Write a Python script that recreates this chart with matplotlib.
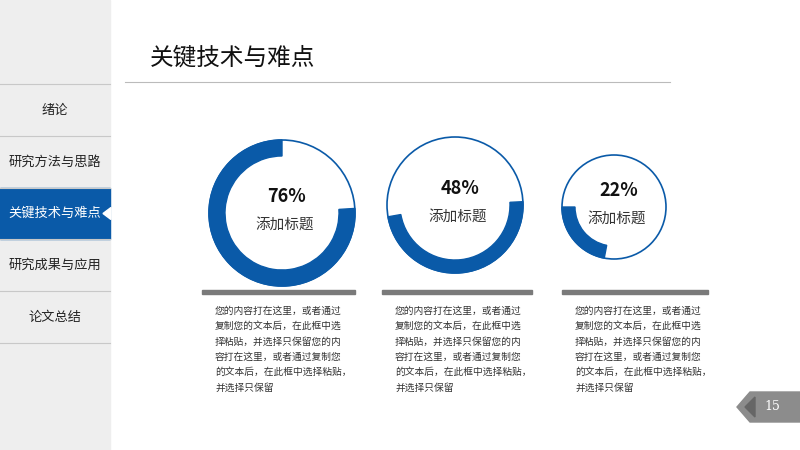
import matplotlib
matplotlib.use("Agg")
import matplotlib.pyplot as plt
from matplotlib.patches import Wedge, Circle, Rectangle, Polygon

plt.rcParams["font.family"] = ["Noto Sans CJK SC", "DejaVu Sans"]

menu_items = ["绪论", "研究方法与思路", "关键技术与难点", "研究成果与应用", "论文总结"]
active_index = 2
title = "关键技术与难点"
percents = [76, 48, 22]
labels = ["添加标题", "添加标题", "添加标题"]
para_lines = [
    ["您的内容打在这里，或者通过", "复制您的文本后，在此框中选", "择粘贴，并选择只保留您的内", "容打在这里，或者通过复制您", "的文本后，在此框中选择粘贴，", "并选择只保留"],
    ["您的内容打在这里，或者通过", "复制您的文本后，在此框中选", "择粘贴，并选择只保留您的内", "容打在这里，或者通过复制您", "的文本后，在此框中选择粘贴，", "并选择只保留"],
    ["您的内容打在这里，或者通过", "复制您的文本后，在此框中选", "择粘贴，并选择只保留您的内", "容打在这里，或者通过复制您", "的文本后，在此框中选择粘贴，", "并选择只保留"],
]
page_number = "15"

BLUE = "#0a5aa8"
fig = plt.figure(figsize=(8, 4.5), dpi=100)
ax = fig.add_axes([0, 0, 1, 1])
ax.set_xlim(0, 800); ax.set_ylim(450, 0); ax.axis("off")

# sidebar
ax.add_patch(Rectangle((0, 0), 110, 450, color="#eeeeee", zorder=0))
sep_y = [84, 136, 188, 239, 291, 343]
for y in sep_y:
    ax.plot([0, 110], [y, y], color="#c8c8c8", lw=0.8)
for i, m in enumerate(menu_items):
    yc = (sep_y[i] + sep_y[i + 1]) / 2
    if i == active_index:
        ax.add_patch(Rectangle((0, sep_y[i]), 110, sep_y[i + 1] - sep_y[i], color=BLUE, zorder=1))
        ax.add_patch(Polygon([[111, yc - 6], [111, yc + 6], [103, yc]], color="white", zorder=2))
        ax.text(55, yc, m, color="white", fontsize=9.5, ha="center", va="center", zorder=3)
    else:
        ax.text(55, yc, m, color="#222222", fontsize=9.5, ha="center", va="center")

ax.text(150, 58, title, fontsize=17, ha="left", va="center", color="#111111")
ax.plot([125, 670], [82, 82], color="#bbbbbb", lw=0.8)

centers = [(282, 213), (455, 205), (614, 207)]
radii = [73, 68, 52]
widths = [16, 13, 13]
starts = [90, 190, 180]
bars = [(202, 355), (382, 532), (562, 708)]
for i, p in enumerate(percents):
    cx, cy = centers[i]; r = radii[i]
    ax.add_patch(Circle((cx, cy), r, fill=False, ec=BLUE, lw=1.2))
    t1 = starts[i]; t2 = t1 + p * 3.6
    ax.add_patch(Wedge((cx, cy), r, -t2, -t1, width=widths[i], color=BLUE))
    ax.text(cx + 5, cy - 16, f"{p}%", fontsize=13, fontweight="bold", ha="center", va="center", color="#111111")
    ax.text(cx + 3, cy + 12, labels[i], fontsize=10.5, ha="center", va="center", color="#333333")
    ax.add_patch(Rectangle((bars[i][0], 290), bars[i][1] - bars[i][0], 4, color="#7a7a7a"))
    for j, line in enumerate(para_lines[i]):
        ax.text(bars[i][0] + 13, 311 + j * 15.3, line, fontsize=7, ha="left", va="center", color="#333333")

ax.add_patch(Polygon([[737, 407], [750, 392], [800, 392], [800, 422], [750, 422]], color="#8c8c8c"))
ax.add_patch(Polygon([[745, 407], [755, 397], [755, 417]], color="#666666"))
ax.text(772, 407, page_number, fontsize=9, color="white", ha="center", va="center", family="DejaVu Serif")

fig.savefig("out.png", dpi=100)
